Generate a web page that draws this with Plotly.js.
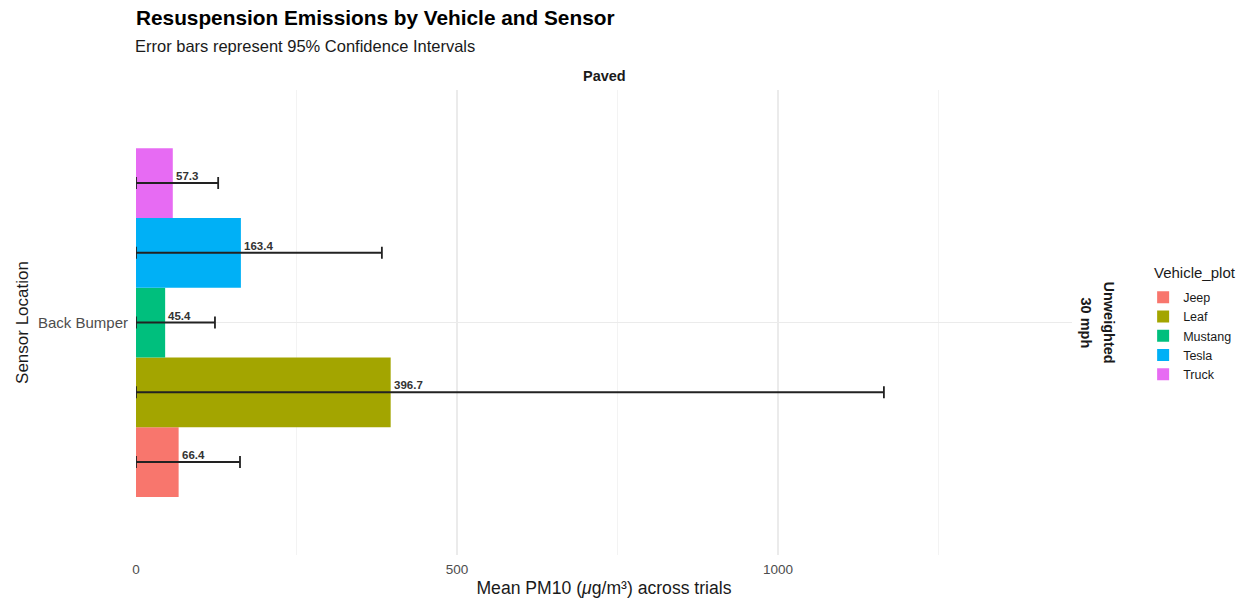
<!DOCTYPE html>
<html>
<head>
<meta charset="utf-8">
<script src="https://cdn.plot.ly/plotly-3.0.1.min.js"></script>
<style>
  html, body { margin: 0; padding: 0; background: #ffffff; }
  #chart { width: 1251px; height: 604px; }
</style>
</head>
<body>
<div id="chart"></div>
<script>
// Mean PM10 per vehicle at the back-bumper sensor, with 95% CI bounds
const sensorLocation = 'Back Bumper';
const vehicles = ['Jeep', 'Leaf', 'Mustang', 'Tesla', 'Truck'];
const meanPM10 = [66.4, 396.7, 45.4, 163.4, 57.3];
const ciLower = [0, 0, 0, 0, 0];
const ciUpper = [162, 1165, 123, 383, 128];
const vehicleColors = ['#F8766D', '#A3A500', '#00BF7D', '#00B0F6', '#E76BF3'];
const xTickVals = [0, 500, 1000];

const FONT = '"Liberation Sans", Arial, Helvetica, sans-serif';
const nGroups = vehicles.length;
const groupWidth = 0.9;
const slot = groupWidth / nGroups;

const traces = vehicles.map((v, i) => ({
  type: 'bar',
  orientation: 'h',
  name: v,
  y: [sensorLocation],
  x: [meanPM10[i]],
  marker: { color: vehicleColors[i], line: { width: 0 } },
  error_x: {
    type: 'data',
    symmetric: false,
    array: [ciUpper[i] - meanPM10[i]],
    arrayminus: [meanPM10[i] - ciLower[i]],
    color: '#222222',
    thickness: 1.8,
    width: 6
  },
  hoverinfo: 'x+name'
}));

// value labels sit just above each error bar, starting at the bar end
const valueLabels = vehicles.map((v, i) => ({
  xref: 'x', yref: 'y',
  x: meanPM10[i],
  y: (i - (nGroups - 1) / 2) * slot,
  text: meanPM10[i].toFixed(1),
  showarrow: false,
  xanchor: 'left', yanchor: 'bottom',
  xshift: 1, yshift: -1,
  font: { family: FONT, size: 11.5, color: '#333333', weight: 'bold' }
}));

const stripFont = { family: FONT, size: 14.5, color: '#1a1a1a' };
const textLabels = [
  { xref: 'paper', yref: 'paper', x: 0.5, y: 1, yanchor: 'middle', yshift: 14,
    text: '<b>Paved</b>', showarrow: false, font: stripFont },
  { xref: 'paper', yref: 'paper', x: 1, y: 0.5, xanchor: 'center', xshift: 14,
    text: '<b>30 mph</b>', textangle: 90, showarrow: false, font: stripFont },
  { xref: 'paper', yref: 'paper', x: 1, y: 0.5, xanchor: 'center', xshift: 37,
    text: '<b>Unweighted</b>', textangle: 90, showarrow: false, font: stripFont },
  { xref: 'paper', yref: 'paper', x: 0, y: 1, xanchor: 'left', yanchor: 'middle',
    xshift: -3, yshift: 44,
    text: 'Error bars represent 95% Confidence Intervals', showarrow: false,
    font: { family: FONT, size: 16.5, color: '#1a1a1a' } },
  // legend heading
  { xref: 'paper', yref: 'paper', x: 1, y: 0.5, xanchor: 'left', yanchor: 'middle',
    xshift: 80, yshift: 50,
    text: 'Vehicle_plot', showarrow: false,
    font: { family: FONT, size: 15, color: '#1a1a1a' } }
];

const layout = {
  width: 1251, height: 604,
  paper_bgcolor: '#ffffff', plot_bgcolor: '#ffffff',
  margin: { l: 136, r: 179, t: 90, b: 49, autoexpand: false },
  font: { family: FONT, color: '#1a1a1a' },
  title: {
    text: '<b>Resuspension Emissions by Vehicle and Sensor</b>',
    xref: 'container', yref: 'container',
    x: 136 / 1251, xanchor: 'left',
    y: 1 - 18 / 604, yanchor: 'middle',
    font: { family: FONT, size: 20.8, color: '#000000' }
  },
  barmode: 'group',
  bargap: 1 - groupWidth,
  bargroupgap: 0,
  xaxis: {
    range: [0, 1458],
    tickvals: xTickVals,
    ticks: '', showline: false, zeroline: false,
    showgrid: true, gridcolor: '#ebebeb', gridwidth: 1.4,
    minor: { dtick: 250, showgrid: true, gridcolor: '#f3f3f3', gridwidth: 1 },
    tickfont: { family: FONT, size: 13.5, color: '#4d4d4d' },
    ticklabelstandoff: 4,
    title: { text: 'Mean PM10 (<i>μ</i>g/m³) across trials', standoff: 6,
             font: { family: FONT, size: 17.6, color: '#1a1a1a' } }
  },
  yaxis: {
    type: 'category',
    range: [-0.6, 0.6],
    ticks: '', showline: false, zeroline: false,
    showgrid: true, gridcolor: '#ebebeb', gridwidth: 1.4,
    tickfont: { family: FONT, size: 15, color: '#4d4d4d' },
    ticklabelstandoff: 7,
    title: { text: 'Sensor Location', standoff: 5,
             font: { family: FONT, size: 17, color: '#1a1a1a' } }
  },
  legend: {
    traceorder: 'normal',
    xref: 'paper', yref: 'paper',
    x: 1.076, xanchor: 'left',
    y: 0.586, yanchor: 'top',
    bgcolor: 'rgba(0,0,0,0)',
    font: { family: FONT, size: 12.5, color: '#1a1a1a' },
    tracegroupgap: 0,
    itemwidth: 30
  },
  annotations: valueLabels.concat(textLabels),
  showlegend: true
};

Plotly.newPlot('chart', traces, layout, { displayModeBar: false, staticPlot: true });
</script>
</body>
</html>
